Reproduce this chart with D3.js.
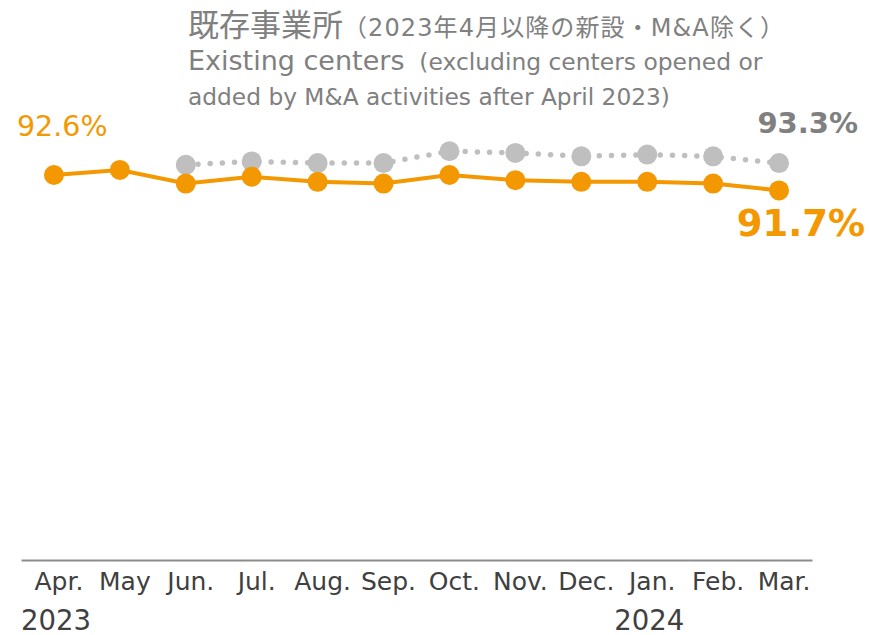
<!DOCTYPE html>
<html>
<head>
<meta charset="utf-8">
<script src="https://cdn.jsdelivr.net/npm/d3@7"></script>
<style>
  html, body { margin: 0; padding: 0; background: #ffffff; }
  svg { display: block; }
  text { font-family: "DejaVu Sans", "Noto Sans CJK JP", sans-serif; }
</style>
</head>
<body>
<svg id="chart" width="869" height="635"></svg>
<script>
// ---- data ----
const months = ["Apr.", "May", "Jun.", "Jul.", "Aug.", "Sep.", "Oct.", "Nov.", "Dec.", "Jan.", "Feb.", "Mar."];
const allCenters = [92.6, 92.9, 92.1, 92.5, 92.2, 92.1, 92.6, 92.3, 92.2, 92.2, 92.1, 91.7];
const existingMonths = ["Jun.", "Jul.", "Aug.", "Sep.", "Oct.", "Nov.", "Dec.", "Jan.", "Feb.", "Mar."];
const existingCenters = [93.2, 93.4, 93.3, 93.3, 94.0, 93.9, 93.7, 93.8, 93.7, 93.3];
const yearLabels = [{ month: "Apr.", label: "2023" }, { month: "Jan.", label: "2024" }];
const yDomain = [70, 100];
const titleJa = ["既存事業所", "（2023年4月以降の新設・M&A除く）"];
const titleEn1 = ["Existing centers", "  (excluding centers opened or"];
const titleEn2 = "added by M&A activities after April 2023)";

const ORANGE = "#F39800";
const GREY_PT = "#BFBFBF";
const GREY_TXT = "#808080";
const AXIS_TXT = "#404040";

const svg = d3.select("#chart");

const x = d3.scaleBand().domain(months).range([21, 812]).paddingInner(0).paddingOuter(0);
const cx = m => x(m) + x.bandwidth() / 2;
const y = d3.scaleLinear().domain(yDomain).range([560, 49]);

// baseline axis
const axis = svg.append("g").attr("transform", `translate(0,${y(yDomain[0])})`)
  .call(d3.axisBottom(x).tickSize(0).tickPadding(0).tickFormat(""));
axis.select(".domain").attr("stroke", "#8c8c8c").attr("stroke-width", 2);

// month labels
svg.append("g").selectAll("text").data(months).join("text")
  .attr("x", d => cx(d) + 5)
  .attr("y", 590)
  .attr("text-anchor", "middle")
  .attr("font-size", 25)
  .attr("fill", AXIS_TXT)
  .text(d => d);

// year labels
svg.append("g").selectAll("text").data(yearLabels).join("text")
  .attr("x", d => x(d.month))
  .attr("y", 630)
  .attr("font-size", 27.5)
  .attr("fill", AXIS_TXT)
  .text(d => d.label);

// existing centers: grey dotted line
const exData = existingMonths.map((m, i) => ({ m, v: existingCenters[i] }));
const line = d3.line().x(d => cx(d.m)).y(d => y(d.v));
svg.append("path").datum(exData)
  .attr("d", line)
  .attr("fill", "none")
  .attr("stroke", GREY_PT)
  .attr("stroke-width", 5.5)
  .attr("stroke-linecap", "round")
  .attr("stroke-dasharray", "0 12.2");
svg.append("g").selectAll("circle").data(exData).join("circle")
  .attr("cx", d => cx(d.m)).attr("cy", d => y(d.v)).attr("r", 10)
  .attr("fill", GREY_PT);

// all centers: orange solid line
const allData = months.map((m, i) => ({ m, v: allCenters[i] }));
svg.append("path").datum(allData)
  .attr("d", line)
  .attr("fill", "none")
  .attr("stroke", ORANGE)
  .attr("stroke-width", 4);
svg.append("g").selectAll("circle").data(allData).join("circle")
  .attr("cx", d => cx(d.m)).attr("cy", d => y(d.v)).attr("r", 10)
  .attr("fill", ORANGE);

// value labels
const first = allData[0], last = allData[allData.length - 1], exLast = exData[exData.length - 1];
svg.append("text")
  .attr("x", cx(first.m) - 37).attr("y", y(first.v) - 39)
  .attr("font-size", 28.5).attr("fill", ORANGE)
  .text(first.v.toFixed(1) + "%");
svg.append("text")
  .attr("x", cx(exLast.m) + 79).attr("y", y(exLast.v) - 30)
  .attr("text-anchor", "end")
  .attr("font-size", 29).attr("font-weight", "bold").attr("fill", GREY_TXT)
  .text(exLast.v.toFixed(1) + "%");
svg.append("text")
  .attr("x", cx(last.m) + 86).attr("y", y(last.v) + 46)
  .attr("text-anchor", "end")
  .attr("font-size", 37).attr("font-weight", "bold").attr("fill", ORANGE)
  .text(last.v.toFixed(1) + "%");

// title block
const t1 = svg.append("text").attr("x", 188).attr("y", 36).attr("fill", GREY_TXT);
t1.append("tspan").attr("font-size", 31).text(titleJa[0]);
t1.append("tspan").attr("font-size", 24).attr("letter-spacing", 1.1).text(titleJa[1]);
const t2 = svg.append("text").attr("x", 188).attr("y", 70).attr("fill", GREY_TXT).attr("xml:space", "preserve");
t2.append("tspan").attr("font-size", 27).text(titleEn1[0]);
t2.append("tspan").attr("font-size", 23.4).text(titleEn1[1]);
svg.append("text").attr("x", 188).attr("y", 105).attr("fill", GREY_TXT)
  .attr("font-size", 23.3).text(titleEn2);
</script>
</body>
</html>
